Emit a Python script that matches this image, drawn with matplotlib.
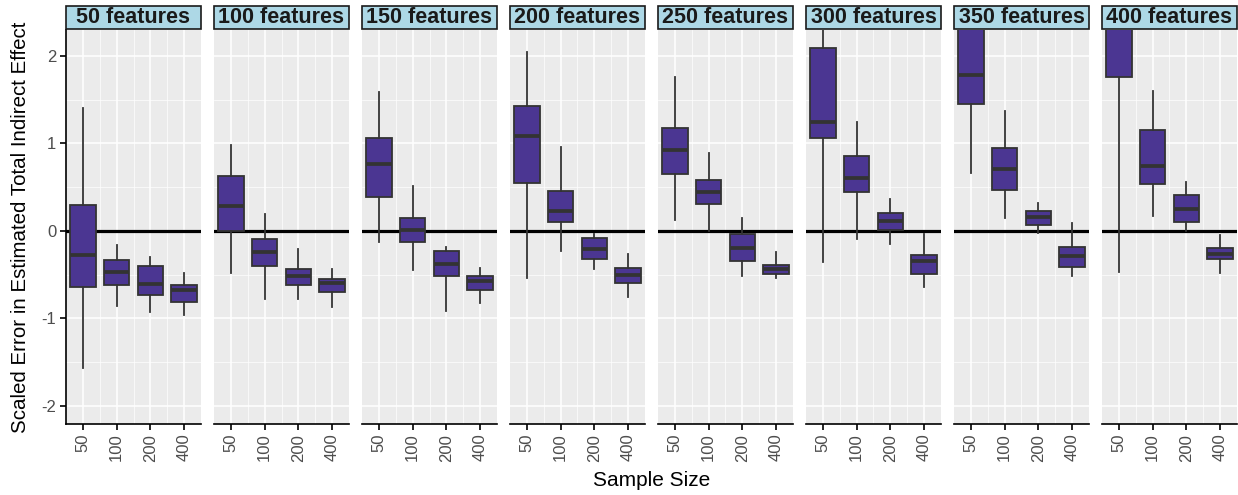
'''
    Scaled error in estimated total indirect effect, faceted by feature count
'''
import matplotlib
matplotlib.use('Agg')
import matplotlib.pyplot as plt
from matplotlib.patches import Rectangle

plt.rcParams['font.family'] = ['Liberation Sans', 'DejaVu Sans']
plt.rcParams['axes.unicode_minus'] = False

features = ['50 features', '100 features', '150 features', '200 features',
            '250 features', '300 features', '350 features', '400 features']
sample_sizes = ['50', '100', '200', '400']

# box stats per facet, one value per sample size
whisker_low = [
    [-1.57, -0.86, -0.93, -0.96],
    [-0.48, -0.78, -0.78, -0.87],
    [-0.13, -0.45, -0.92, -0.82],
    [-0.54, -0.23, -0.43, -0.76],
    [0.12, 0.0, -0.51, -0.54],
    [-0.36, -0.09, -0.15, -0.64],
    [0.66, 0.15, -0.02, -0.52],
    [-0.47, 0.17, 0.0, -0.48],
]
box_low = [
    [-0.64, -0.62, -0.73, -0.81],
    [0.0, -0.40, -0.62, -0.70],
    [0.39, -0.13, -0.52, -0.67],
    [0.55, 0.10, -0.32, -0.59],
    [0.65, 0.31, -0.34, -0.49],
    [1.06, 0.44, 0.01, -0.49],
    [1.45, 0.47, 0.07, -0.41],
    [1.76, 0.54, 0.10, -0.32],
]
median = [
    [-0.27, -0.47, -0.61, -0.67],
    [0.28, -0.24, -0.51, -0.59],
    [0.77, 0.01, -0.38, -0.57],
    [1.08, 0.23, -0.21, -0.50],
    [0.93, 0.44, -0.19, -0.44],
    [1.25, 0.61, 0.11, -0.34],
    [1.78, 0.71, 0.16, -0.29],
    [2.45, 0.74, 0.25, -0.26],
]
box_high = [
    [0.30, -0.33, -0.40, -0.62],
    [0.63, -0.09, -0.43, -0.55],
    [1.06, 0.15, -0.23, -0.52],
    [1.43, 0.46, -0.08, -0.42],
    [1.18, 0.58, -0.03, -0.39],
    [2.09, 0.86, 0.20, -0.27],
    [2.60, 0.95, 0.23, -0.18],
    [2.90, 1.15, 0.41, -0.20],
]
whisker_high = [
    [1.40, -0.16, -0.30, -0.48],
    [0.98, 0.19, -0.21, -0.43],
    [1.59, 0.51, -0.18, -0.42],
    [2.04, 0.96, -0.03, -0.26],
    [1.76, 0.89, 0.15, -0.24],
    [2.60, 1.25, 0.37, -0.03],
    [3.20, 1.37, 0.32, 0.09],
    [3.60, 1.60, 0.56, -0.05],
]

BOX_FILL = '#4b3692'
EDGE = '#333333'
PANEL_BG = '#ebebeb'
TEXT_GREY = '#4d4d4d'


def box_stats(i):
    '''Build bxp stats for one facet'''
    stats = []
    for j, lbl in enumerate(sample_sizes):
        stats.append({
            'label': lbl,
            'whislo': whisker_low[i][j],
            'q1': box_low[i][j],
            'med': median[i][j],
            'q3': box_high[i][j],
            'whishi': whisker_high[i][j],
            'fliers': [],
        })
    return stats


def draw_panel(ax, i):
    '''Draw one facet with ggplot-like styling'''
    ax.set_facecolor(PANEL_BG)
    ax.set_xlim(0.5, 4.5)
    ax.set_ylim(-2.206, 2.297)
    ax.set_yticks([-2, -1, 0, 1, 2])
    ax.set_yticks([-1.5, -0.5, 0.5, 1.5], minor=True)
    ax.set_xticks([1.5, 2.5, 3.5], minor=True)
    ax.grid(True, which='major', color='white', linewidth=1.1)
    ax.grid(True, which='minor', color='white', linewidth=0.5)
    ax.set_axisbelow(True)

    ax.axhline(0, color='black', linewidth=2.3, zorder=2)
    ax.bxp(box_stats(i), positions=[1, 2, 3, 4], widths=0.75,
           patch_artist=True, showcaps=False, showfliers=False,
           boxprops={'facecolor': BOX_FILL, 'edgecolor': EDGE,
                     'linewidth': 1.3},
           whiskerprops={'color': EDGE, 'linewidth': 1.3},
           medianprops={'color': EDGE, 'linewidth': 2.7,
                        'solid_capstyle': 'butt'},
           zorder=3)
    ax.set_xticks([1, 2, 3, 4])
    ax.set_xticklabels(sample_sizes, rotation=90, fontsize=12,
                       color=TEXT_GREY)

    for side in ['top', 'right']:
        ax.spines[side].set_visible(False)
    ax.spines['bottom'].set_color('black')
    ax.spines['bottom'].set_linewidth(1.2)
    ax.tick_params(axis='x', which='major', length=4, width=1.2,
                   color='black', pad=3)
    ax.tick_params(which='minor', length=0)
    if i == 0:
        ax.spines['left'].set_color('black')
        ax.spines['left'].set_linewidth(1.2)
        ax.tick_params(axis='y', which='major', length=4, width=1.2,
                       color='black', labelsize=12, labelcolor=TEXT_GREY,
                       pad=3)
    else:
        ax.spines['left'].set_visible(False)
        ax.tick_params(axis='y', which='major', length=0,
                       labelleft=False)

    # facet strip
    strip_h = 23 / 394
    ax.add_patch(Rectangle((0, 1.0 + 1 / 394), 1, strip_h,
                           transform=ax.transAxes, clip_on=False,
                           facecolor='#add8e6', edgecolor='#1a1a1a',
                           linewidth=1.2))
    ax.text(0.5, 1.0 + 1 / 394 + strip_h / 2, features[i],
            transform=ax.transAxes, ha='center', va='center',
            fontsize=15.5, fontweight='bold', color='#1a1a1a')


def execute():
    '''Build the faceted figure and save it'''
    fig, axes = plt.subplots(1, len(features), figsize=(12.38, 4.95),
                             dpi=100, sharey=True)
    fig.subplots_adjust(left=66 / 1238, right=1237 / 1238,
                        bottom=1 - 424 / 495, top=1 - 30 / 495,
                        wspace=13 / 135)
    for i, ax in enumerate(axes):
        draw_panel(ax, i)
    fig.text(0.009, (1 - 424 / 495 + 1 - 30 / 495) / 2,
             'Scaled Error in Estimated Total Indirect Effect',
             rotation=90, ha='left', va='center', fontsize=14.8,
             color='black')
    fig.text((66 + 1237) / 2 / 1238, 1 - 480 / 495, 'Sample Size',
             ha='center', va='center', fontsize=15, color='black')
    fig.savefig('out.png', dpi=100)


execute()
